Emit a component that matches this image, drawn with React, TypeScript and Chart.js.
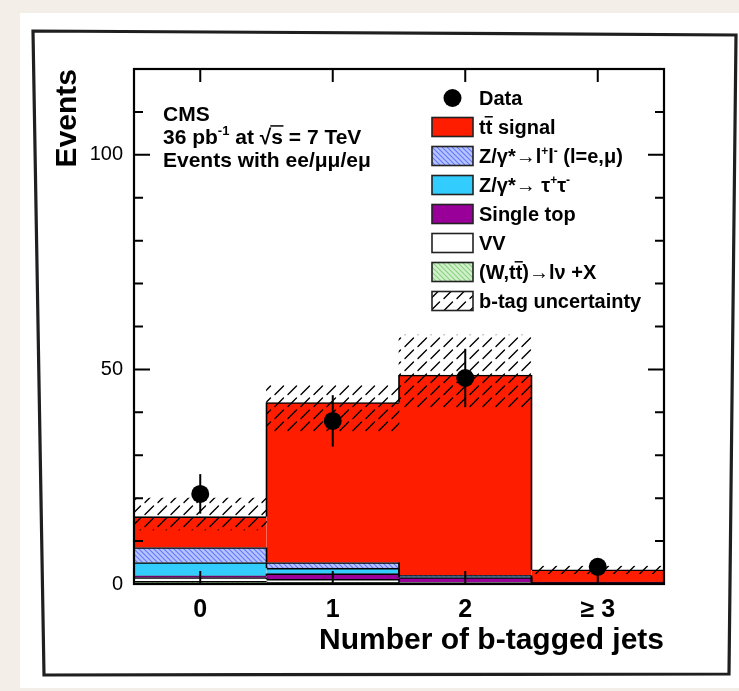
import React, { useEffect, useRef } from 'react';
import { Chart, registerables } from 'chart.js';

Chart.register(...registerables);

const FONT = '"Liberation Sans", Arial, Helvetica, sans-serif';

// Bins of the b-tag multiplicity
const categories = ['0', '1', '2', '≥ 3'];

// Stacked expectations per bin (events), bottom to top
const wJets = [0.6, 0.4, 0.2, 0.05];
const dibosons = [0.9, 0.7, 0.2, 0.02];
const singleTop = [0.4, 1.3, 1.1, 0.3];
const zTauTau = [3.1, 1.3, 0.2, 0.03];
const zEeMuMu = [3.5, 1.3, 0.3, 0.05];
const ttSignal = [7.2, 37.3, 46.7, 2.85];

// b-tag uncertainty band (low / high edge)
const bTagLow = [12.6, 35.5, 41.0, 2.4];
const bTagHigh = [20.0, 46.4, 58.0, 4.2];

// Observed events and their errors
const dataCounts = [21, 38, 48, 4];
const dataErrors = [4.6, 6.0, 6.8, 2.0];

// Axis
const yLabelValues = [0, 50, 100];
const yMinorStep = 10;
const yMax = 120;

type Seg = { t: string; sup?: boolean; bar?: boolean };

const legendEntries: { key: string; label: Seg[] }[] = [
  { key: 'data', label: [{ t: 'Data' }] },
  { key: 'tt', label: [{ t: 't' }, { t: 't', bar: true }, { t: ' signal' }] },
  { key: 'zll', label: [{ t: 'Z/γ*→l' }, { t: '+', sup: true }, { t: 'l' }, { t: '-', sup: true }, { t: ' (l=e,μ)' }] },
  { key: 'ztt', label: [{ t: 'Z/γ*→ τ' }, { t: '+', sup: true }, { t: 'τ' }, { t: '-', sup: true }] },
  { key: 'st', label: [{ t: 'Single top' }] },
  { key: 'vv', label: [{ t: 'VV' }] },
  { key: 'w', label: [{ t: '(W,t' }, { t: 't', bar: true }, { t: ')→lν +X' }] },
  { key: 'unc', label: [{ t: 'b-tag uncertainty' }] },
];

const cmsLines: Seg[][] = [
  [{ t: 'CMS' }],
  [{ t: '36 pb' }, { t: '-1', sup: true }, { t: ' at ' }, { t: '√' }, { t: 's', bar: true }, { t: ' = 7 TeV' }],
  [{ t: 'Events with ee/μμ/eμ' }],
];

function makePattern(
  size: number,
  bg: string | null,
  line: string,
  width: number,
  dir: 'back' | 'fwd-dash'
): CanvasPattern | string {
  const c = document.createElement('canvas');
  c.width = size;
  c.height = dir === 'fwd-dash' ? 12 : size;
  const g = c.getContext('2d');
  if (!g) return bg || 'transparent';
  if (bg) {
    g.fillStyle = bg;
    g.fillRect(0, 0, c.width, c.height);
  }
  g.strokeStyle = line;
  g.lineWidth = width;
  g.lineCap = 'round';
  g.beginPath();
  if (dir === 'back') {
    for (const k of [-size, 0, size]) {
      g.moveTo(k, 0);
      g.lineTo(k + size, size);
    }
  } else {
    g.moveTo(2, 10.5);
    g.lineTo(10.5, 2);
  }
  g.stroke();
  return g.createPattern(c, 'repeat') || line;
}

function drawRich(ctx: CanvasRenderingContext2D, segs: Seg[], x: number, base: number, size: number, weight: string) {
  let cx = x;
  for (const s of segs) {
    const fs = s.sup ? Math.round(size * 0.62) : size;
    ctx.font = `${weight} ${fs}px ${FONT}`;
    const dy = s.sup ? -size * 0.42 : 0;
    ctx.fillText(s.t, cx, base + dy);
    const w = ctx.measureText(s.t).width;
    if (s.bar) {
      ctx.save();
      ctx.lineWidth = 1.5;
      ctx.strokeStyle = '#000';
      ctx.beginPath();
      ctx.moveTo(cx - 1, base - size * 0.86);
      ctx.lineTo(cx + w + 0.5, base - size * 0.86);
      ctx.stroke();
      ctx.restore();
    }
    cx += w;
  }
}

export default function App() {
  const canvasRef = useRef<HTMLCanvasElement | null>(null);

  useEffect(() => {
    const canvas = canvasRef.current;
    if (!canvas) return;

    const fills: Record<string, any> = {
      tt: '#ff1d00',
      zll: makePattern(5, '#b8c4ff', '#5f78ff', 1.1, 'back'),
      ztt: '#33ccff',
      st: '#990099',
      vv: '#ffffff',
      w: makePattern(5, '#d2f0cc', '#86d27e', 1.1, 'back'),
      unc: makePattern(13, null, '#000', 1.4, 'fwd-dash'),
    };

    const mc = [
      { key: 'w', label: '(W,tt)→lν+X', data: wJets },
      { key: 'vv', label: 'VV', data: dibosons },
      { key: 'st', label: 'Single top', data: singleTop },
      { key: 'ztt', label: 'Z/γ*→ττ', data: zTauTau },
      { key: 'zll', label: 'Z/γ*→ll', data: zEeMuMu },
      { key: 'tt', label: 'tt signal', data: ttSignal },
    ];
    const mcCount = mc.length;
    const DATA_INDEX = mcCount + 1;

    const datasets: any[] = mc.map((m) => ({
      type: 'bar',
      label: m.label,
      data: m.data,
      backgroundColor: fills[m.key],
      borderColor: '#000',
      borderWidth: { top: 1.6, left: 0, right: 0, bottom: 0 },
      stack: 'mc',
      order: 2,
      categoryPercentage: 1,
      barPercentage: 1,
      grouped: false,
    }));
    datasets.push({
      type: 'bar',
      label: 'b-tag uncertainty',
      data: bTagLow.map((lo, i) => [lo, bTagHigh[i]]),
      backgroundColor: fills.unc,
      borderWidth: 0,
      stack: 'unc',
      order: 1,
      categoryPercentage: 1,
      barPercentage: 1,
      grouped: false,
    });
    datasets.push({
      type: 'line',
      label: 'Data',
      data: dataCounts,
      showLine: false,
      stack: 'data',
      order: 0,
      pointRadius: 9,
      pointHoverRadius: 9,
      pointBackgroundColor: '#000',
      pointBorderColor: '#000',
      pointBorderWidth: 0,
    });

    const overlay = {
      id: 'overlay',
      afterDatasetDraw(chart: any, args: any) {
        if (args.index !== 0) return;
        // vertical steps of every stacked histogram between neighbouring bins
        const ctx = chart.ctx as CanvasRenderingContext2D;
        ctx.save();
        ctx.strokeStyle = '#000';
        ctx.lineWidth = 1.6;
        for (let d = 0; d < mcCount; d++) {
          const els = chart.getDatasetMeta(d).data;
          for (let i = 0; i < els.length - 1; i++) {
            const a = els[i];
            const b = els[i + 1];
            const bx = a.x + a.width / 2;
            if (Math.abs(a.y - b.y) < 0.5) continue;
            ctx.beginPath();
            ctx.moveTo(bx, a.y);
            ctx.lineTo(bx, b.y);
            ctx.stroke();
          }
        }
        ctx.restore();
      },
      beforeDatasetDraw(chart: any, args: any) {
        if (args.index !== DATA_INDEX) return;
        const { ctx, scales, chartArea } = chart;
        ctx.save();
        ctx.strokeStyle = '#000';
        ctx.lineWidth = 2;
        dataCounts.forEach((v, i) => {
          const px = scales.x.getPixelForValue(i);
          const y1 = Math.min(chartArea.bottom, scales.y.getPixelForValue(v - dataErrors[i]));
          const y2 = scales.y.getPixelForValue(v + dataErrors[i]);
          ctx.beginPath();
          ctx.moveTo(px, y1);
          ctx.lineTo(px, y2);
          ctx.stroke();
        });
        ctx.restore();
      },
      afterDatasetsDraw(chart: any) {
        const { ctx, scales, chartArea } = chart;
        const { left, right, top, bottom } = chartArea;
        ctx.save();
        ctx.strokeStyle = '#000';
        ctx.lineWidth = 2;
        ctx.beginPath();
        for (let v = 0; v <= yMax; v += yMinorStep) {
          const py = scales.y.getPixelForValue(v);
          const len = yLabelValues.includes(v) ? 16 : 9;
          ctx.moveTo(left, py);
          ctx.lineTo(left + len, py);
          ctx.moveTo(right, py);
          ctx.lineTo(right - len, py);
        }
        categories.forEach((_, i) => {
          const px = scales.x.getPixelForValue(i);
          ctx.moveTo(px, bottom);
          ctx.lineTo(px, bottom - 13);
          ctx.moveTo(px, top);
          ctx.lineTo(px, top + 13);
        });
        ctx.stroke();
        ctx.lineWidth = 2.2;
        ctx.strokeRect(left, top, right - left, bottom - top);
        ctx.restore();
      },
      afterDraw(chart: any) {
        const ctx = chart.ctx as CanvasRenderingContext2D;
        ctx.save();
        ctx.fillStyle = '#000';
        ctx.textBaseline = 'alphabetic';
        ctx.textAlign = 'left';

        // legend
        const boxX = 432;
        const boxW = 41;
        const boxH = 19;
        legendEntries.forEach((e, k) => {
          const cy = 98 + 29 * k;
          if (e.key === 'data') {
            ctx.beginPath();
            ctx.arc(boxX + boxW / 2, cy, 9, 0, Math.PI * 2);
            ctx.fillStyle = '#000';
            ctx.fill();
          } else {
            ctx.fillStyle = '#fff';
            ctx.fillRect(boxX, cy - boxH / 2, boxW, boxH);
            ctx.fillStyle = fills[e.key];
            ctx.fillRect(boxX, cy - boxH / 2, boxW, boxH);
            ctx.strokeStyle = '#222';
            ctx.lineWidth = 1.6;
            ctx.strokeRect(boxX, cy - boxH / 2, boxW, boxH);
          }
          ctx.fillStyle = '#000';
          drawRich(ctx, e.label, 479, cy + 7, 20, 'bold');
        });

        // experiment / luminosity caption
        cmsLines.forEach((segs, k) => {
          drawRich(ctx, segs, 163, 121 + 23 * k, 21, 'bold');
        });
        ctx.restore();
      },
    };

    const chart = new Chart(canvas, {
      type: 'bar',
      data: { labels: categories, datasets },
      options: {
        responsive: false,
        animation: false,
        devicePixelRatio: 1,
        events: [],
        layout: { padding: { left: 34, top: 69, right: 75, bottom: 24 } },
        plugins: {
          legend: { display: false },
          tooltip: { enabled: false },
        },
        scales: {
          x: {
            type: 'category',
            stacked: true,
            grid: { display: false },
            border: { display: false },
            ticks: {
              color: '#000',
              font: { family: FONT, size: 25, weight: 'bold' },
              padding: 3,
              maxRotation: 0,
              autoSkip: false,
            },
            title: {
              display: true,
              text: 'Number of b-tagged jets',
              align: 'end',
              color: '#000',
              font: { family: FONT, size: 30, weight: 'bold' },
              padding: { top: 0, bottom: 8 },
            },
            afterFit: (s: any) => {
              s.height = 83;
            },
          },
          y: {
            stacked: true,
            min: 0,
            max: yMax,
            grid: { display: false },
            border: { display: false },
            ticks: {
              color: '#000',
              font: { family: FONT, size: 20 },
              padding: 3,
            },
            afterBuildTicks: (s: any) => {
              s.ticks = yLabelValues.map((v) => ({ value: v }));
            },
            title: {
              display: true,
              text: 'Events',
              align: 'end',
              color: '#000',
              font: { family: FONT, size: 30, weight: 'bold' },
              padding: { top: 16, bottom: 0 },
            },
            afterFit: (s: any) => {
              s.width = 100;
            },
          },
        },
      } as any,
      plugins: [overlay],
    });

    return () => chart.destroy();
  }, []);

  return (
    <div
      style={{
        position: 'absolute',
        left: 0,
        top: 0,
        width: 739,
        height: 691,
        background: '#f3efe8',
        overflow: 'hidden',
      }}
    >
      <div
        style={{
          position: 'absolute',
          left: 20,
          top: 13,
          width: 719,
          height: 675,
          background: '#ffffff',
        }}
      />
      <svg width={739} height={691} style={{ position: 'absolute', left: 0, top: 0 }}>
        <polygon points="33,31 736,35 729,674 44,675" fill="none" stroke="#1f1f1f" strokeWidth={3.2} />
      </svg>
      <canvas
        ref={canvasRef}
        width={739}
        height={691}
        style={{ position: 'absolute', left: 0, top: 0, width: 739, height: 691 }}
      />
    </div>
  );
}
